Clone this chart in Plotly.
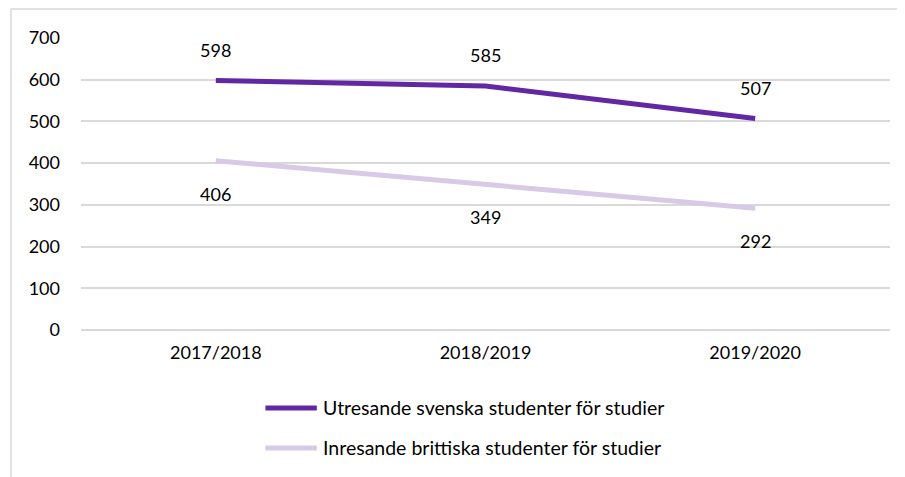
import plotly.graph_objects as go

# data
years = ["2017/2018", "2018/2019", "2019/2020"]
utresande = [598, 585, 507]
inresande = [406, 349, 292]
series_names = [
    "Utresande svenska studenter för studier",
    "Inresande brittiska studenter för studier",
]
y_ticks = [0, 100, 200, 300, 400, 500, 600, 700]

dark = "#6228A4"
light = "#D8CAE6"
font = "Lato, Carlito, 'Open Sans', sans-serif"

fig = go.Figure()
fig.add_trace(go.Scatter(x=years, y=utresande, mode="lines", name=series_names[0],
                         line=dict(color=dark, width=5)))
fig.add_trace(go.Scatter(x=years, y=inresande, mode="lines", name=series_names[1],
                         line=dict(color=light, width=5)))

# data labels
annotations = []
for x, y in zip(years, utresande):
    annotations.append(dict(x=x, y=y, text=str(y), showarrow=False, yshift=31,
                            font=dict(size=18, color="#000000")))
for x, y in zip(years, inresande):
    annotations.append(dict(x=x, y=y, text=str(y), showarrow=False, yshift=-33,
                            font=dict(size=18, color="#000000")))

# custom legend
shapes = []
for i, (name, col) in enumerate(zip(series_names, [dark, light])):
    yy = -0.267 - i * 0.137
    shapes.append(dict(type="line", xref="paper", yref="paper", x0=0.228, x1=0.2915,
                       y0=yy, y1=yy, line=dict(color=col, width=5)))
    annotations.append(dict(xref="paper", yref="paper", x=0.2965, y=yy, text=name,
                            xanchor="left", yanchor="middle", showarrow=False,
                            font=dict(size=19.5, color="#000000")))

# outer border
shapes.append(dict(type="rect", xref="paper", yref="paper", x0=-0.0865, x1=1.03,
                   y0=-0.55, y1=1.099, line=dict(color="#D9D9D9", width=1.5), layer="below"))

fig.update_layout(
    width=905,
    height=477,
    margin=dict(l=73, r=23, t=30, b=155),
    paper_bgcolor="white",
    plot_bgcolor="white",
    showlegend=False,
    font=dict(family=font, size=18, color="#000000"),
    annotations=annotations,
    shapes=shapes,
)
fig.update_xaxes(range=[-0.5, 2.5], showgrid=False, showline=False, zeroline=False,
                 ticks="", ticklabelstandoff=10, tickfont=dict(size=18))
fig.update_yaxes(range=[0, 700], tickvals=y_ticks, showgrid=True, gridcolor="#D9D9D9",
                 gridwidth=1.5, zeroline=True, zerolinecolor="#D9D9D9", zerolinewidth=1.5,
                 showline=False, ticks="", ticklabelstandoff=20, tickfont=dict(size=18))

fig.write_html("out.html")
